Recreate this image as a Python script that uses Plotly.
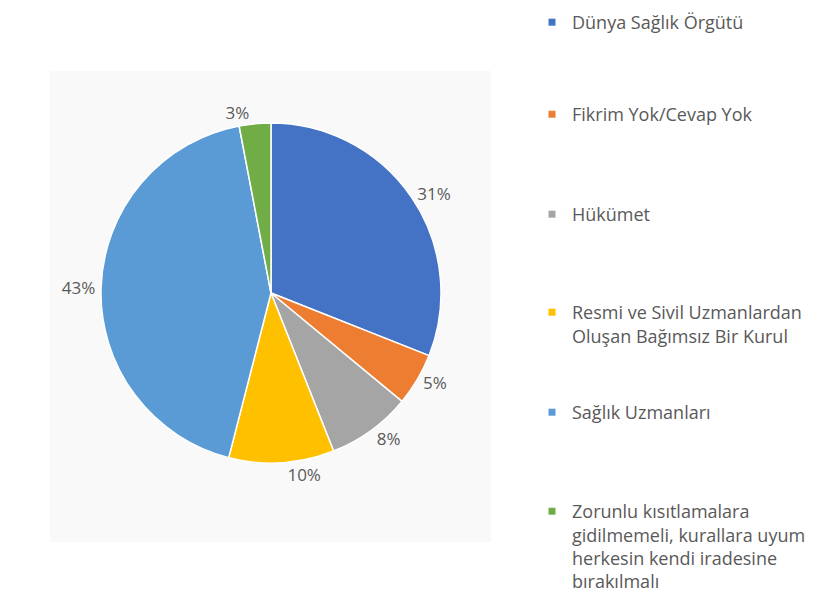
import plotly.graph_objects as go

categories = [
    "Dünya Sağlık Örgütü",
    "Fikrim Yok/Cevap Yok",
    "Hükümet",
    "Resmi ve Sivil Uzmanlardan<br>Oluşan Bağımsız Bir Kurul",
    "Sağlık Uzmanları",
    "Zorunlu kısıtlamalara<br>gidilmemeli, kurallara uyum<br>herkesin kendi iradesine<br>bırakılmalı",
]
values = [31, 5, 8, 10, 43, 3]
colors = ["#4472C4", "#ED7D31", "#A5A5A5", "#FFC000", "#5B9BD5", "#70AD47"]

W, H = 818, 603
FONT = "'Open Sans', Lato, sans-serif"
GRAY = "#595959"

fig = go.Figure()

# pie centre / size in pixels
cx, cy, d = 263, 285, 340
fig.add_trace(go.Pie(
    labels=[c.replace("<br>", " ") for c in categories],
    values=values,
    sort=False,
    direction="clockwise",
    rotation=0,
    marker=dict(colors=colors, line=dict(color="white", width=1.5)),
    texttemplate="%{value}%",
    textposition="outside",
    textfont=dict(family=FONT, size=17, color=GRAY),
    showlegend=False,
    hoverinfo="label+value",
    domain=dict(x=[(cx - d / 2) / W, (cx + d / 2) / W],
                y=[(H - cy - d / 2) / H, (H - cy + d / 2) / H]),
))

# legend entries: one legend box per entry so spacing matches the original
legend_tops = [21, 113, 213, 311, 411, 510]  # y of first text line centre (px)
layout_legends = {}
for i, (cat, col) in enumerate(zip(categories, colors)):
    lname = "legend" if i == 0 else f"legend{i + 1}"
    fig.add_trace(go.Scatter(
        x=[None], y=[None], mode="markers", name=cat,
        marker=dict(symbol="square", size=7, color=col),
        legend=lname, showlegend=True, hoverinfo="skip",
    ))
    layout_legends[lname] = dict(
        x=524 / W, y=1 - (legend_tops[i] - 25) / H,
        xanchor="left", yanchor="top",
        font=dict(family=FONT, size=18, color=GRAY),
        valign="top", itemwidth=30, bgcolor="rgba(0,0,0,0)",
    )

fig.update_layout(
    width=W, height=H,
    margin=dict(l=0, r=0, t=0, b=0, autoexpand=False),
    paper_bgcolor="white",
    plot_bgcolor="rgba(0,0,0,0)",
    xaxis=dict(visible=False),
    yaxis=dict(visible=False),
    font=dict(family=FONT, color=GRAY),
    shapes=[dict(type="rect", xref="paper", yref="paper",
                 x0=42 / W, x1=483 / W, y0=1 - 534 / H, y1=1 - 63 / H,
                 line=dict(width=0), fillcolor="#f9f9f9", layer="below")],
    **layout_legends,
)

fig.write_html("out.html")
